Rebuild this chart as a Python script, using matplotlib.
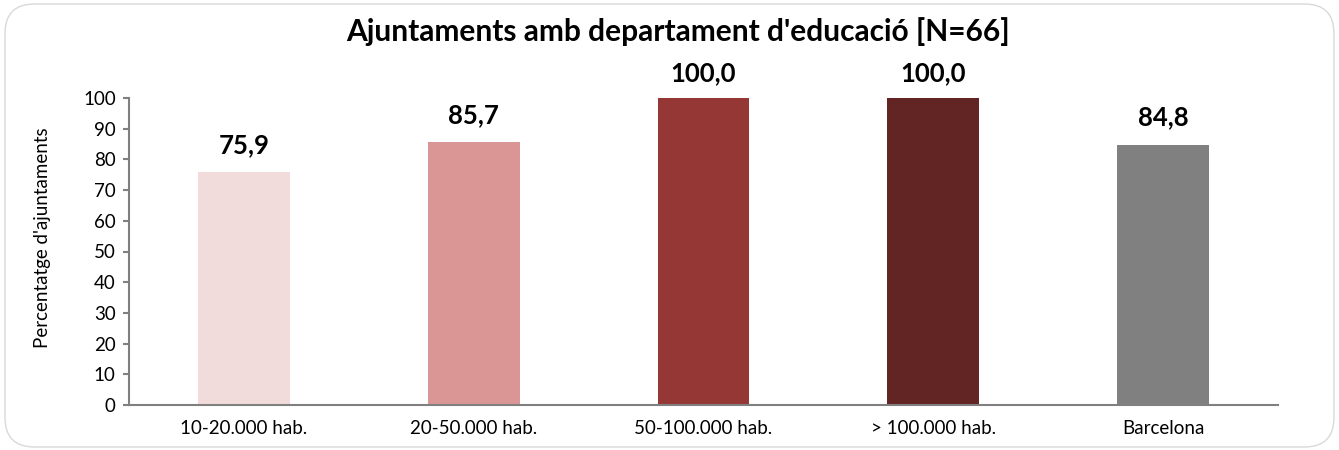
import matplotlib
matplotlib.use("Agg")
import matplotlib.pyplot as plt
from matplotlib.patches import FancyBboxPatch

categories = ["10-20.000 hab.", "20-50.000 hab.", "50-100.000 hab.", "> 100.000 hab.", "Barcelona"]
values = [75.9, 85.7, 100.0, 100.0, 84.8]
colors = ["#F2DCDB", "#D99694", "#953735", "#632523", "#808080"]
yticks = [0, 10, 20, 30, 40, 50, 60, 70, 80, 90, 100]
title = "Ajuntaments amb departament d'educació [N=66]"
ylabel = "Percentatge d'ajuntaments"

plt.rcParams['font.family'] = ['Lato', 'DejaVu Sans']

W, H = 1339, 450
fig = plt.figure(figsize=(W / 100, H / 100), dpi=100)
border = FancyBboxPatch((5 / W, 3 / H), 1329 / W, 443 / H,
                        boxstyle="round,pad=0,rounding_size=0.022",
                        transform=fig.transFigure, facecolor="none",
                        edgecolor="#D9D9D9", linewidth=1.0, mutation_aspect=W / H,
                        zorder=-10)
fig.patches.append(border)

ax = fig.add_axes([129 / W, 1 - 405 / H, (1278 - 129) / W, (405 - 98) / H])
ax.set_facecolor("none")
x = list(range(len(categories)))
ax.bar(x, values, width=0.4, color=colors)
for xi, v in zip(x, values):
    ax.text(xi, min(v + 6.2, 105.4), f"{v:.1f}".replace(".", ","), ha="center",
            va="baseline", fontsize=18.5, fontweight="bold", clip_on=False)
ax.set_xlim(-0.5, 4.5)
ax.set_ylim(0, 100)
ax.set_yticks(yticks)
ax.set_xticks(x)
ax.set_xticklabels(categories, fontsize=13.5)
ax.tick_params(axis="x", length=0, pad=11)
ax.tick_params(axis="y", length=4.5, width=1.5, color="#808080", labelsize=13.5, pad=5)
for s in ["top", "right"]:
    ax.spines[s].set_visible(False)
for s in ["left", "bottom"]:
    ax.spines[s].set_color("#808080")
    ax.spines[s].set_linewidth(1.5)
fig.text(43 / W, 1 - 238 / H, ylabel, rotation=90, ha="center", va="center", fontsize=13.5)
fig.text(678 / W, 1 - 32 / H, title, ha="center", va="center", fontsize=21.5, fontweight="bold")

fig.savefig("out.png", dpi=100)
